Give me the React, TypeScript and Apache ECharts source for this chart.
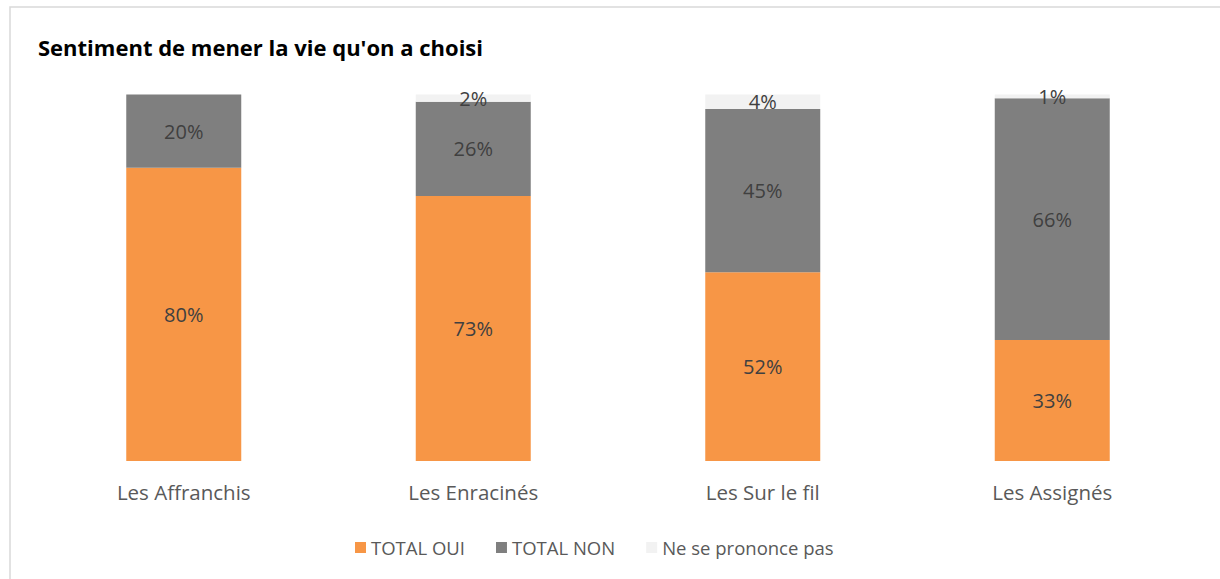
import React, { useEffect, useRef } from "react";
import * as echarts from "echarts";

const categories = ["Les Affranchis", "Les Enracinés", "Les Sur le fil", "Les Assignés"];
const seriesNames = ["TOTAL OUI", "TOTAL NON", "Ne se prononce pas"];
const totalOui = [80, 73, 52, 33];
const totalNon = [20, 26, 45, 66];
const nspp = [0, 2, 4, 1];
const colors = ["#F79646", "#7F7F7F", "#F2F2F2"];
const titleText = "Sentiment de mener la vie qu'on a choisi";

const FONT = "'Open Sans', 'Noto Sans', sans-serif";

export default function App() {
  const ref = useRef<HTMLDivElement>(null);
  useEffect(() => {
    document.body.style.margin = "0";
    if (!ref.current) return;
    const chart = echarts.init(ref.current, undefined, { renderer: "svg" });
    const raw = [totalOui, totalNon, nspp];
    const sums = categories.map((_, i) => raw.reduce((s, arr) => s + arr[i], 0));
    const series = raw.map((arr, k) => ({
      name: seriesNames[k],
      type: "bar",
      stack: "total",
      barWidth: 115,
      itemStyle: { color: colors[k] },
      data: arr.map((v, i) => ({ value: (v / sums[i]) * 100, raw: v })),
      label: {
        show: true,
        position: "inside",
        color: "#404040",
        fontFamily: FONT,
        fontSize: 20,
        formatter: (p: any) => (p.data.raw > 0 ? p.data.raw + "%" : ""),
      },
    }));
    chart.setOption({
      animation: false,
      backgroundColor: "#ffffff",
      textStyle: { fontFamily: FONT },
      title: {
        text: titleText,
        left: 33,
        top: 31,
        textStyle: { fontFamily: FONT, fontSize: 22, fontWeight: "bold", color: "#000000" },
      },
      graphic: [
        {
          type: "rect",
          shape: { x: 10, y: 7, width: 1220, height: 600 },
          style: { fill: "none", stroke: "#d9d9d9", lineWidth: 1.5 },
          silent: true,
        },
      ],
      legend: {
        left: 350,
        top: 533,
        itemWidth: 11,
        itemHeight: 11,
        itemGap: 31,
        icon: "rect",
        textStyle: { fontFamily: FONT, fontSize: 18.5, color: "#595959" },
        data: seriesNames,
      },
      grid: { left: 39, right: 23, top: 94.5, bottom: 118 },
      xAxis: {
        type: "category",
        data: categories,
        axisLine: { show: false },
        axisTick: { show: false },
        axisLabel: { fontFamily: FONT, fontSize: 20.5, color: "#595959", margin: 20 },
      },
      yAxis: {
        type: "value",
        min: 0,
        max: 100,
        show: false,
        splitLine: { show: false },
      },
      series,
    });
    return () => chart.dispose();
  }, []);
  return <div ref={ref} style={{ width: 1220, height: 579 }} />;
}
